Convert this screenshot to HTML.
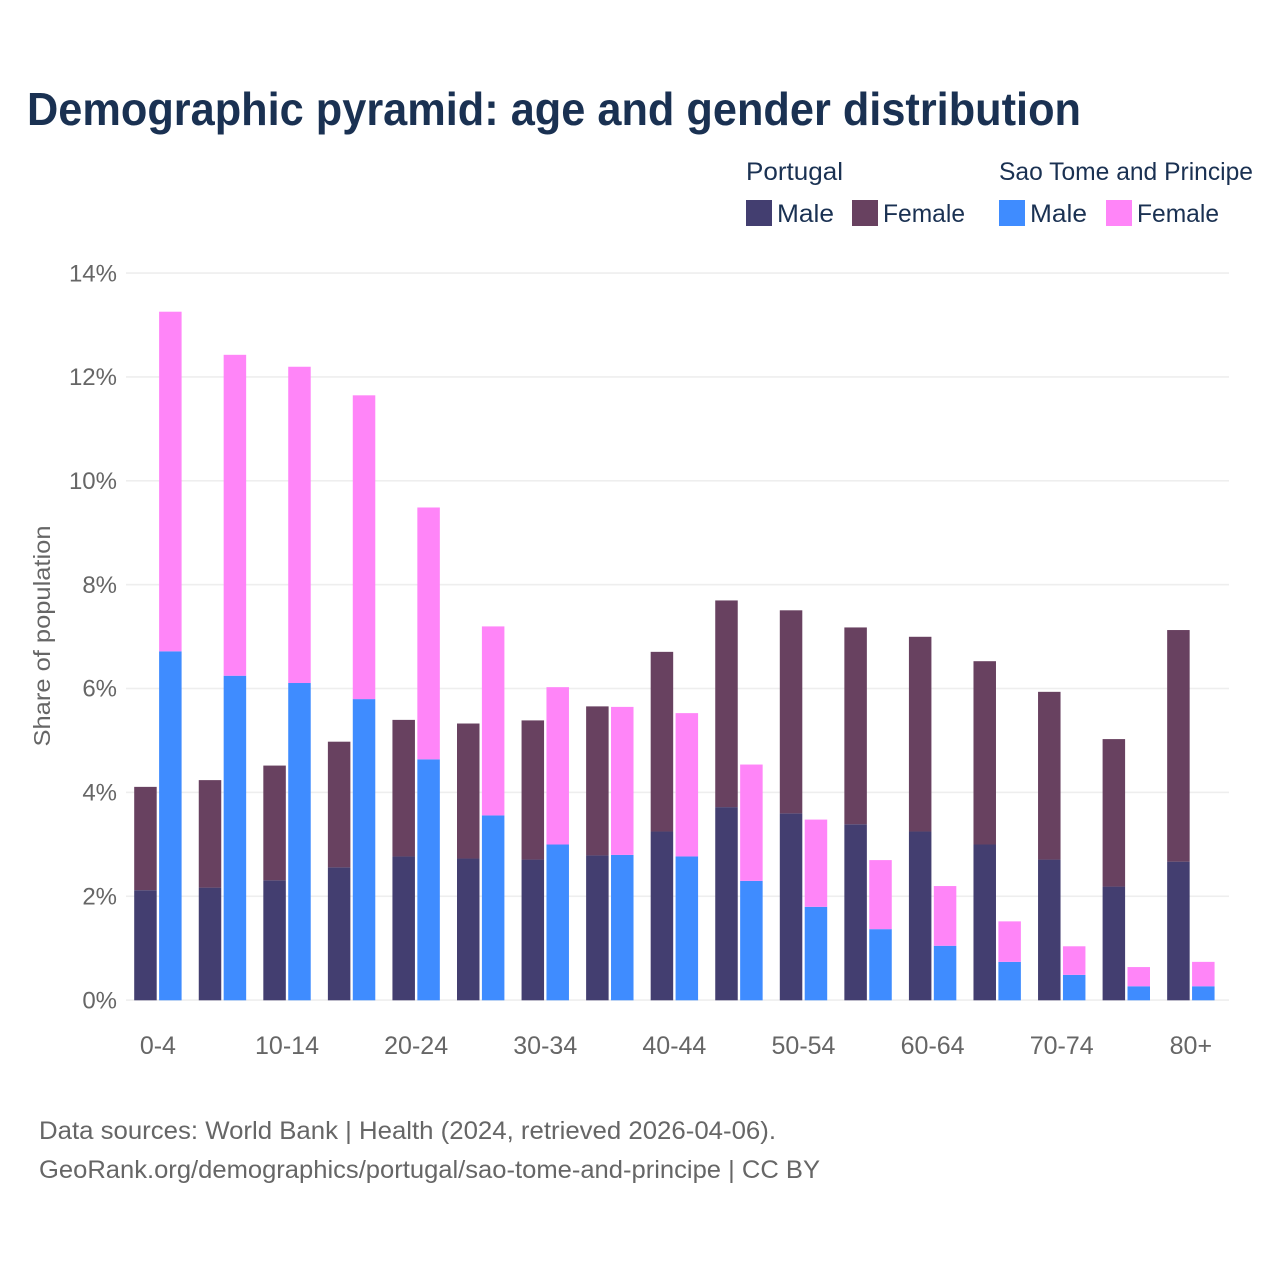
<!DOCTYPE html>
<html lang="en">
<head>
<meta charset="utf-8">
<title>Demographic pyramid</title>
<style>
html,body{margin:0;padding:0;background:#fff;}
svg{display:block;font-family:"Liberation Sans",sans-serif;}
</style>
</head>
<body>
<svg id="chart" width="1280" height="1280" viewBox="0 0 1280 1280" xmlns="http://www.w3.org/2000/svg">
  <rect x="0" y="0" width="1280" height="1280" fill="#ffffff"/>
  <text x="27" y="125" font-size="46" font-weight="700" fill="#1a3152" textLength="1054" lengthAdjust="spacingAndGlyphs">Demographic pyramid: age and gender distribution</text>

  <g font-size="25" fill="#1a3152">
    <text x="746" y="180" textLength="97" lengthAdjust="spacingAndGlyphs">Portugal</text>
    <text x="999" y="180" textLength="254" lengthAdjust="spacingAndGlyphs">Sao Tome and Principe</text>
    <rect x="746" y="200" width="26" height="26" fill="#433e70"/>
    <text x="777" y="222" textLength="57" lengthAdjust="spacingAndGlyphs">Male</text>
    <rect x="852" y="200" width="26" height="26" fill="#684160"/>
    <text x="883" y="222" textLength="82" lengthAdjust="spacingAndGlyphs">Female</text>
    <rect x="999" y="200" width="26" height="26" fill="#3f8cff"/>
    <text x="1030" y="222" textLength="57" lengthAdjust="spacingAndGlyphs">Male</text>
    <rect x="1106" y="200" width="26" height="26" fill="#ff85f8"/>
    <text x="1137" y="222" textLength="82" lengthAdjust="spacingAndGlyphs">Female</text>
  </g>

  <g id="grid"></g>
  <g id="yticks"></g>
  <g id="bars"></g>
  <g id="xticks"></g>

  <text transform="translate(50,636) rotate(-90)" text-anchor="middle" font-size="23.5" fill="#666666" textLength="221" lengthAdjust="spacingAndGlyphs">Share of population</text>

  <text x="39" y="1139" font-size="25" fill="#666666" textLength="737" lengthAdjust="spacingAndGlyphs">Data sources: World Bank | Health (2024, retrieved 2026-04-06).</text>
  <text x="39" y="1178" font-size="25" fill="#666666" textLength="781" lengthAdjust="spacingAndGlyphs">GeoRank.org/demographics/portugal/sao-tome-and-principe | CC BY</text>
</svg>
<script>
var ageGroups = ["0-4","5-9","10-14","15-19","20-24","25-29","30-34","35-39","40-44","45-49","50-54","55-59","60-64","65-69","70-74","75-79","80+"];
var xTickLabels = ["0-4","10-14","20-24","30-34","40-44","50-54","60-64","70-74","80+"];
var yTickValues = [0,2,4,6,8,10,12,14];
var portugalMale = [2.12,2.17,2.31,2.56,2.77,2.73,2.71,2.79,3.25,3.72,3.60,3.39,3.25,3.00,2.71,2.19,2.67];
var portugalFemale = [1.99,2.07,2.21,2.42,2.63,2.60,2.68,2.87,3.46,3.98,3.91,3.79,3.75,3.53,3.23,2.84,4.46];
var stpMale = [6.72,6.25,6.11,5.80,4.64,3.56,3.00,2.80,2.77,2.30,1.80,1.37,1.05,0.74,0.49,0.27,0.27];
var stpFemale = [6.54,6.18,6.09,5.85,4.85,3.64,3.03,2.85,2.76,2.24,1.68,1.33,1.15,0.78,0.55,0.37,0.47];

var SVG_NS = "http://www.w3.org/2000/svg";
var plotLeft = 126, plotRight = 1229, baseY = 1000.3, pxPerUnit = 51.93;
var firstGroupX = 134.2, groupStep = 64.56, barWidth = 22.5, barGap = 2.4;

function yScale(v){ return baseY - v * pxPerUnit; }
function xScale(i){ return firstGroupX + i * groupStep; }
function groupCenter(i){ return xScale(i) + barWidth + barGap / 2; }

function makeRect(parent, x, y, w, h, fill){
  var r = document.createElementNS(SVG_NS, "rect");
  r.setAttribute("x", x);
  r.setAttribute("y", y);
  r.setAttribute("width", w);
  r.setAttribute("height", h);
  r.setAttribute("fill", fill);
  parent.appendChild(r);
  return r;
}
function makeLabel(parent, x, y, anchor, size, str){
  var t = document.createElementNS(SVG_NS, "text");
  t.setAttribute("x", x);
  t.setAttribute("y", y);
  t.setAttribute("text-anchor", anchor);
  t.setAttribute("font-size", size);
  t.setAttribute("fill", "#666666");
  t.textContent = str;
  parent.appendChild(t);
  return t;
}

var grid = document.getElementById("grid");
var yticks = document.getElementById("yticks");
yTickValues.forEach(function(v){
  var line = makeRect(grid, plotLeft, yScale(v) - 1, plotRight - plotLeft, 1.6, "#eeeeee");
  
  
  var lab = makeLabel(yticks, 117, yScale(v) + 8, "end", 24, v + "%");
  
  
});

var bars = document.getElementById("bars");
ageGroups.forEach(function(g, i){
  var x1 = xScale(i);
  var x2 = x1 + barWidth + barGap;
  var pm = makeRect(bars, x1, yScale(portugalMale[i]), barWidth, portugalMale[i] * pxPerUnit, "#433e70");
  
  
  var pfTotal = portugalMale[i] + portugalFemale[i];
  var pf = makeRect(bars, x1, yScale(pfTotal), barWidth, portugalFemale[i] * pxPerUnit, "#684160");
  
  
  var sm = makeRect(bars, x2, yScale(stpMale[i]), barWidth, stpMale[i] * pxPerUnit, "#3f8cff");
  
  
  var sfTotal = stpMale[i] + stpFemale[i];
  var sf = makeRect(bars, x2, yScale(sfTotal), barWidth, stpFemale[i] * pxPerUnit, "#ff85f8");
  
  
});

var xticks = document.getElementById("xticks");
xTickLabels.forEach(function(label){
  var idx = ageGroups.indexOf(label);
  var t = makeLabel(xticks, groupCenter(idx), 1054, "middle", 25, label);
  
  
});
</script>
</body>
</html>
